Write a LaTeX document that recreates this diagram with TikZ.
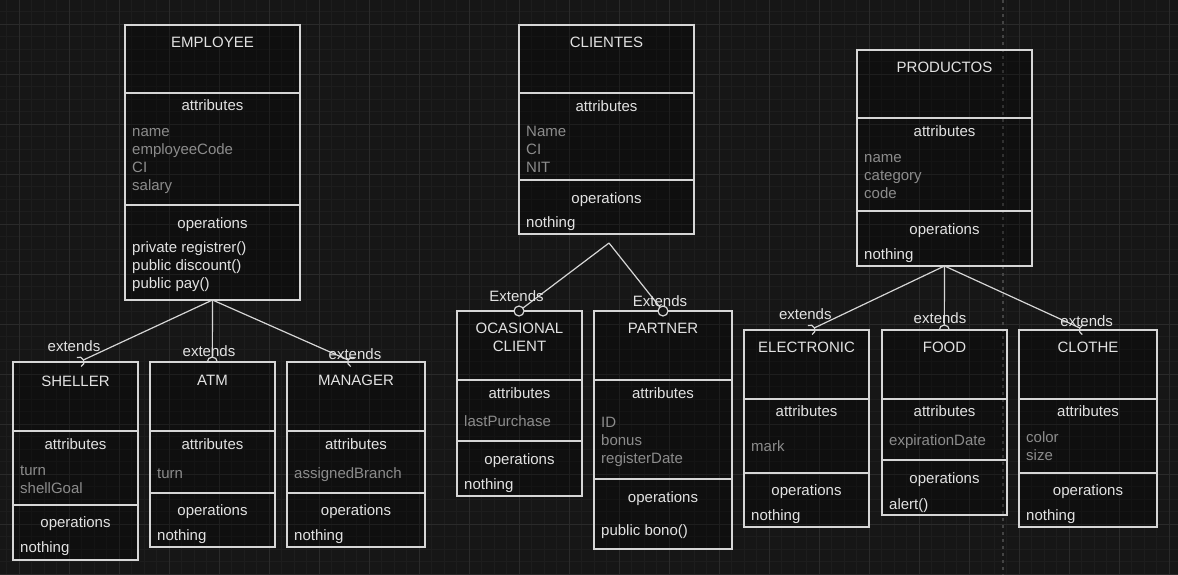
\documentclass[tikz,border=0pt]{standalone}
\usepackage{fontspec}
\setmainfont{Liberation Sans}
\usetikzlibrary{calc}
\definecolor{bgc}{HTML}{161616}
\definecolor{minorg}{HTML}{1D1D1D}
\definecolor{majorg}{HTML}{2A2A2A}
\definecolor{linec}{HTML}{D6D6D6}
\definecolor{txt}{HTML}{E2E2E2}
\definecolor{greyt}{HTML}{8C8C8C}
\definecolor{dashc}{HTML}{444444}
\tikzset{
  box/.style={draw=linec, line width=1.3pt, fill=black, fill opacity=0.28, text opacity=1, anchor=north west, inner sep=0pt, outer sep=0pt},
  divl/.style={draw=linec, line width=1.3pt},
  ttl/.style={anchor=base, text=txt, inner sep=0pt, font=\fontsize{15}{18}\selectfont},
  attr/.style={anchor=base west, text=greyt, inner sep=0pt, font=\fontsize{15}{18}\selectfont},
  opr/.style={anchor=base west, text=txt, inner sep=0pt, font=\fontsize{15}{18}\selectfont},
  conn/.style={draw=linec, line width=1.2pt},
  extl/.style={anchor=base, text=txt, inner sep=0pt, font=\fontsize{15}{18}\selectfont}
}
\newcommand\halfarrow[2]{%
  \draw[conn] (#1) -- ($(#2)!5pt!(#1)$);
  \draw[conn] let \p1=($(#1)-(#2)$), \n1={atan2(\y1,\x1)} in ($(#2)+(\n1-90:5pt)$) arc[start angle=\n1-90, end angle=\n1+90, radius=5pt];
}
\newcommand\circarrow[2]{%
  \draw[conn] (#1) -- ($(#2)!5pt!(#1)$);
  \draw[conn, fill=bgc] (#2) circle[radius=5pt];
}
\begin{document}
\begin{tikzpicture}[x=1pt,y=-1pt]
\useasboundingbox (0,0) rectangle (1178,575);
\fill[bgc] (0,0) rectangle (1178,575);
% grid
\foreach \gx in {6.5,19,...,1178} \draw[minorg, line width=0.8pt] (\gx,0) -- (\gx,575);
\foreach \gy in {11.5,24,...,575} \draw[minorg, line width=0.8pt] (0,\gy) -- (1178,\gy);
\foreach \gx in {19,69,...,1178} \draw[majorg, line width=0.9pt] (\gx,0) -- (\gx,575);
\foreach \gy in {24,74,...,575} \draw[majorg, line width=0.9pt] (0,\gy) -- (1178,\gy);
\draw[dashc, line width=2pt, dash pattern=on 3pt off 4pt] (1003,0) -- (1003,575);

% ===== EMPLOYEE =====
\node[box, minimum width=175pt, minimum height=275pt] (employee) at (125,25) {};
\draw[divl] (125,93) -- (300,93);
\draw[divl] (125,205) -- (300,205);
\node[ttl] (empT) at (212.5,47.5) {EMPLOYEE};
\node[ttl] (empA) at (212.5,111) {attributes};
\node[attr] (empA1) at (132,136.5) {name};
\node[attr] (empA2) at (132,154.5) {employeeCode};
\node[attr] (empA3) at (132,172.5) {CI};
\node[attr] (empA4) at (132,190.5) {salary};
\node[ttl] (empO) at (212.5,228) {operations};
\node[opr] (empO1) at (132,252) {private registrer()};
\node[opr] (empO2) at (132,270) {public discount()};
\node[opr] (empO3) at (132,288) {public pay()};

% ===== SHELLER =====
\node[box, minimum width=125pt, minimum height=198pt] (sheller) at (13,362) {};
\draw[divl] (13,431) -- (138,431);
\draw[divl] (13,505) -- (138,505);
\node[ttl] (shT) at (75.5,386) {SHELLER};
\node[ttl] (shA) at (75.5,449) {attributes};
\node[attr] (shA1) at (20,475) {turn};
\node[attr] (shA2) at (20,493) {shellGoal};
\node[ttl] (shO) at (75.5,527.5) {operations};
\node[opr] (shO1) at (20,552.5) {nothing};

% ===== ATM =====
\node[box, minimum width=125pt, minimum height=185pt] (atm) at (150,362) {};
\draw[divl] (150,431) -- (275,431);
\draw[divl] (150,493) -- (275,493);
\node[ttl] (atmT) at (212.5,385.5) {ATM};
\node[ttl] (atmA) at (212.5,449) {attributes};
\node[attr] (atmA1) at (157,478) {turn};
\node[ttl] (atmO) at (212.5,515) {operations};
\node[opr] (atmO1) at (157,540) {nothing};

% ===== MANAGER =====
\node[box, minimum width=138pt, minimum height=185pt] (manager) at (287,362) {};
\draw[divl] (287,431) -- (425,431);
\draw[divl] (287,493) -- (425,493);
\node[ttl] (mgT) at (356,385.5) {MANAGER};
\node[ttl] (mgA) at (356,449) {attributes};
\node[attr] (mgA1) at (294,478) {assignedBranch};
\node[ttl] (mgO) at (356,515) {operations};
\node[opr] (mgO1) at (294,540) {nothing};

% ===== CLIENTES =====
\node[box, minimum width=175pt, minimum height=209pt] (clientes) at (519,25) {};
\draw[divl] (519,93) -- (694,93);
\draw[divl] (519,180) -- (694,180);
\node[ttl] (clT) at (606.5,47.5) {CLIENTES};
\node[ttl] (clA) at (606.5,111.5) {attributes};
\node[attr] (clA1) at (526,136.5) {Name};
\node[attr] (clA2) at (526,154.5) {CI};
\node[attr] (clA3) at (526,172.5) {NIT};
\node[ttl] (clO) at (606.5,203.5) {operations};
\node[opr] (clO1) at (526,227.5) {nothing};

% ===== OCASIONAL CLIENT =====
\node[box, minimum width=125pt, minimum height=185pt] (ocasional) at (457,311) {};
\draw[divl] (457,380) -- (582,380);
\draw[divl] (457,441) -- (582,441);
\node[ttl] (ocT1) at (519.5,333.5) {OCASIONAL};
\node[ttl] (ocT2) at (519.5,351.5) {CLIENT};
\node[ttl] (ocA) at (519.5,398.5) {attributes};
\node[attr] (ocA1) at (464,426.5) {lastPurchase};
\node[ttl] (ocO) at (519.5,464.5) {operations};
\node[opr] (ocO1) at (464,489.5) {nothing};

% ===== PARTNER =====
\node[box, minimum width=138pt, minimum height=238pt] (partner) at (594,311) {};
\draw[divl] (594,380) -- (732,380);
\draw[divl] (594,479) -- (732,479);
\node[ttl] (paT) at (663,333.5) {PARTNER};
\node[ttl] (paA) at (663,398.5) {attributes};
\node[attr] (paA1) at (601,427) {ID};
\node[attr] (paA2) at (601,445) {bonus};
\node[attr] (paA3) at (601,463) {registerDate};
\node[ttl] (paO) at (663,502) {operations};
\node[opr] (paO1) at (601,535) {public bono()};

% ===== PRODUCTOS =====
\node[box, minimum width=175pt, minimum height=216pt] (productos) at (857,50) {};
\draw[divl] (857,118) -- (1032,118);
\draw[divl] (857,211) -- (1032,211);
\node[ttl] (prT) at (944.5,72.5) {PRODUCTOS};
\node[ttl] (prA) at (944.5,136.5) {attributes};
\node[attr] (prA1) at (864,162.5) {name};
\node[attr] (prA2) at (864,180.5) {category};
\node[attr] (prA3) at (864,198.5) {code};
\node[ttl] (prO) at (944.5,234.5) {operations};
\node[opr] (prO1) at (864,259.5) {nothing};

% ===== ELECTRONIC =====
\node[box, minimum width=125pt, minimum height=197pt] (electronic) at (744,330) {};
\draw[divl] (744,399) -- (869,399);
\draw[divl] (744,473) -- (869,473);
\node[ttl] (elT) at (806.5,352) {ELECTRONIC};
\node[ttl] (elA) at (806.5,416.5) {attributes};
\node[attr] (elA1) at (751,451.5) {mark};
\node[ttl] (elO) at (806.5,495.5) {operations};
\node[opr] (elO1) at (751,520.5) {nothing};

% ===== FOOD =====
\node[box, minimum width=125pt, minimum height=185pt] (food) at (882,330) {};
\draw[divl] (882,399) -- (1007,399);
\draw[divl] (882,460) -- (1007,460);
\node[ttl] (foT) at (944.5,352) {FOOD};
\node[ttl] (foA) at (944.5,416.5) {attributes};
\node[attr] (foA1) at (889,445.5) {expirationDate};
\node[ttl] (foO) at (944.5,483.5) {operations};
\node[opr] (foO1) at (889,509) {alert()};

% ===== CLOTHE =====
\node[box, minimum width=138pt, minimum height=197pt] (clothe) at (1019,330) {};
\draw[divl] (1019,399) -- (1157,399);
\draw[divl] (1019,473) -- (1157,473);
\node[ttl] (cloT) at (1088,352) {CLOTHE};
\node[ttl] (cloA) at (1088,416.5) {attributes};
\node[attr] (cloA1) at (1026,442.5) {color};
\node[attr] (cloA2) at (1026,460.5) {size};
\node[ttl] (cloO) at (1088,495.5) {operations};
\node[opr] (cloO1) at (1026,520.5) {nothing};

% ===== connectors =====
\coordinate (tSheller) at (79,362);
\coordinate (tAtm) at (212.3,362);
\coordinate (tManager) at (352.7,362);
\coordinate (sClientes) at (609,243);
\coordinate (tOcasional) at (519,311);
\coordinate (tPartner) at (663,311);
\coordinate (tElectronic) at (810,330);
\coordinate (tFood) at (944.3,330);
\coordinate (tClothe) at (1084.3,330);

\halfarrow{employee.south}{tSheller}
\halfarrow{employee.south}{tAtm}
\halfarrow{employee.south}{tManager}
\circarrow{sClientes}{tOcasional}
\circarrow{sClientes}{tPartner}
\halfarrow{productos.south}{tElectronic}
\halfarrow{productos.south}{tFood}
\halfarrow{productos.south}{tClothe}

\node[extl] (lSheller) at (74,351) {extends};
\node[extl] (lAtm) at (209,356) {extends};
\node[extl] (lManager) at (355,359) {extends};
\node[extl] (lOcasional) at (516.5,301) {Extends};
\node[extl] (lPartner) at (660,306.5) {Extends};
\node[extl] (lElectronic) at (805.3,319) {extends};
\node[extl] (lFood) at (940,323) {extends};
\node[extl] (lClothe) at (1086.7,326.5) {extends};
\end{tikzpicture}
\end{document}
